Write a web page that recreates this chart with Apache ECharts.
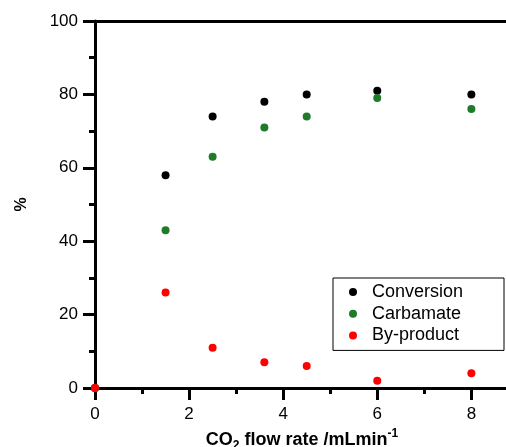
<!DOCTYPE html>
<html>
<head>
<meta charset="utf-8">
<script src="https://cdn.jsdelivr.net/npm/echarts@6/dist/echarts.min.js"></script>
<style>
  html, body { margin: 0; padding: 0; background: #fff; }
  #chart { width: 506px; height: 447px; }
</style>
</head>
<body>
<div id="chart"></div>
<script>
// CO2 flow rate (mL/min)
var flowConversion = [0, 1.5, 2.5, 3.6, 4.5, 6, 8];
var conversion = [0, 58, 74, 78, 80, 81, 80];
var flowCarbamate = [0, 1.5, 2.5, 3.6, 4.5, 6, 8];
var carbamate = [0, 43, 63, 71, 74, 79, 76];
var flowByproduct = [0, 1.5, 2.5, 3.6, 4.5, 6, 8];
var byproduct = [0, 26, 11, 7, 6, 2, 4];

function pairs(xs, ys) {
    return xs.map(function (x, i) { return [x, ys[i]]; });
}

var dom = document.getElementById('chart');
var chart = echarts.init(dom, null, { renderer: 'canvas' });

var font = 'Liberation Sans, Arial, Helvetica, sans-serif';

var option = {
    animation: false,
    backgroundColor: '#fff',
    textStyle: { fontFamily: font },
    grid: { left: 95, top: 21, right: -3, bottom: 59, outerBoundsMode: 'none', containLabel: false },
    legend: {
        orient: 'vertical',
        left: 333,
        top: 278,
        padding: [5, 8, 6, 16],
        itemGap: 3.7,
        itemWidth: 8,
        itemHeight: 8,
        borderColor: '#000',
        borderWidth: 1,
        borderRadius: 0,
        backgroundColor: '#fff',
        icon: 'circle',
        textStyle: { fontSize: 18, color: '#000', fontFamily: font, lineHeight: 18, width: 124, padding: [0, 0, 0, 10] },
        data: ['Conversion', 'Carbamate', 'By-product']
    },
    xAxis: [
        {
            type: 'value',
            min: 0,
            max: 8.8,
            interval: 2,
            name: '{b|CO}{s|2}{b| flow rate /mLmin}{p|-1}',
            nameLocation: 'middle',
            nameGap: 37,
            nameTextStyle: {
                rich: {
                    b: { fontSize: 18, fontWeight: 'bold', color: '#000', fontFamily: font, lineHeight: 24 },
                    s: { fontSize: 12, fontWeight: 'bold', color: '#000', fontFamily: font, verticalAlign: 'bottom', lineHeight: 24 },
                    p: { fontSize: 12, fontWeight: 'bold', color: '#000', fontFamily: font, verticalAlign: 'top', lineHeight: 24 }
                }
            },
            axisLine: { lineStyle: { color: '#000', width: 3 } },
            axisTick: { length: 12, lineStyle: { color: '#000', width: 3 } },
            minorTick: { show: true, splitNumber: 2, length: 6, lineStyle: { color: '#000', width: 3 } },
            axisLabel: { fontSize: 17, color: '#000', margin: 18, showMaxLabel: false, fontFamily: font },
            splitLine: { show: false }
        },
        {
            type: 'value',
            position: 'top',
            min: 0,
            max: 8.8,
            axisLine: { show: true, lineStyle: { color: '#000', width: 3 } },
            axisTick: { show: false },
            axisLabel: { show: false },
            splitLine: { show: false }
        }
    ],
    yAxis: {
        type: 'value',
        min: 0,
        max: 100,
        interval: 20,
        name: '%',
        nameLocation: 'middle',
        nameGap: 65,
        nameTextStyle: { fontSize: 16, fontWeight: 'bold', color: '#000', fontFamily: font },
        axisLine: { show: true, lineStyle: { color: '#000', width: 3 } },
        axisTick: { show: true, length: 12, lineStyle: { color: '#000', width: 3 } },
        minorTick: { show: true, splitNumber: 2, length: 6, lineStyle: { color: '#000', width: 3 } },
        axisLabel: { fontSize: 17, color: '#000', margin: 17, fontFamily: font },
        splitLine: { show: false }
    },
    series: [
        {
            name: 'Conversion',
            type: 'scatter',
            symbolSize: 8,
            itemStyle: { color: '#000000', opacity: 1 },
            data: pairs(flowConversion, conversion)
        },
        {
            name: 'Carbamate',
            type: 'scatter',
            symbolSize: 8,
            itemStyle: { color: '#1e7b2a', opacity: 1 },
            data: pairs(flowCarbamate, carbamate)
        },
        {
            name: 'By-product',
            type: 'scatter',
            symbolSize: 8,
            itemStyle: { color: '#ff0000', opacity: 1 },
            data: pairs(flowByproduct, byproduct)
        }
    ]
};

chart.setOption(option);
window.addEventListener('resize', chart.resize);
</script>
</body>
</html>
